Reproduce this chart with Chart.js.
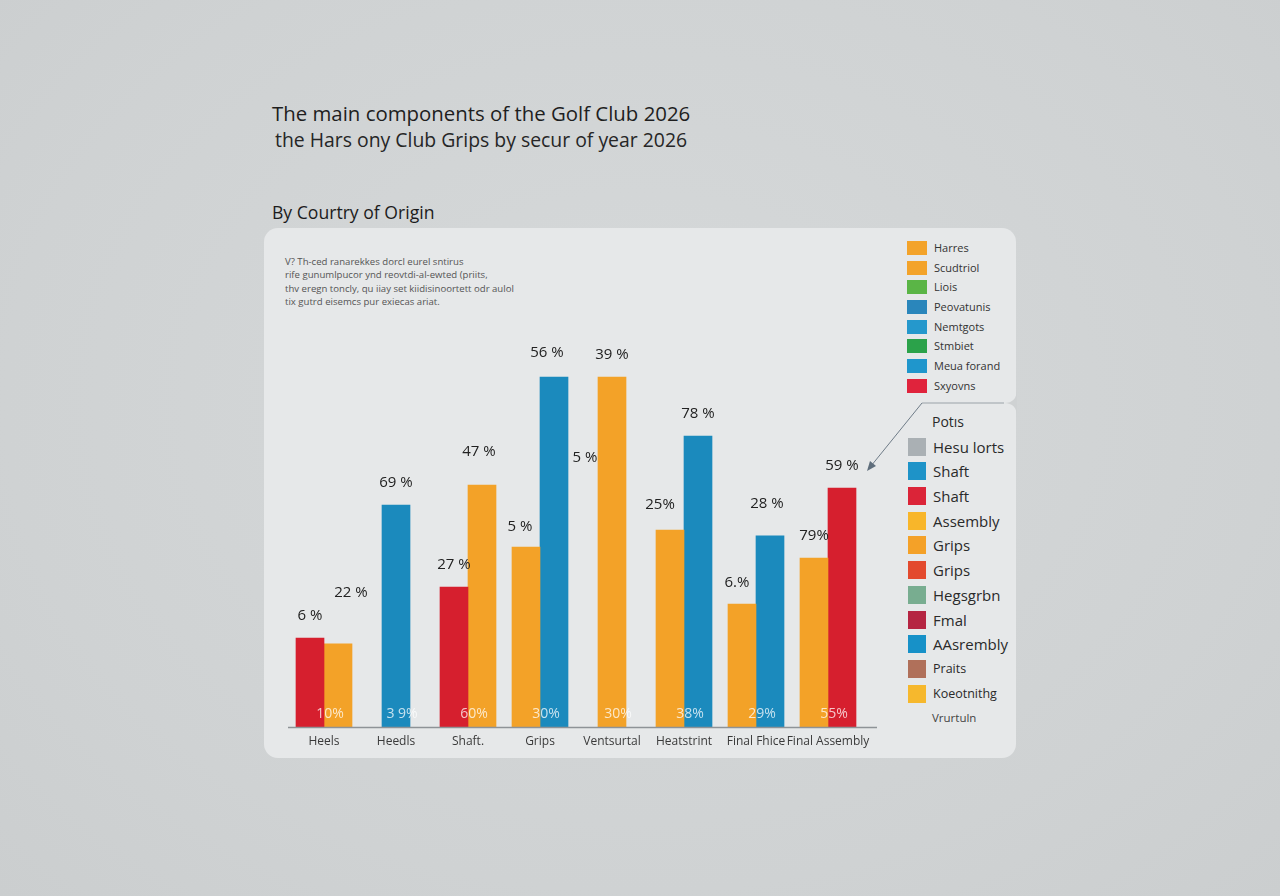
<!DOCTYPE html>
<html>
<head>
<meta charset="utf-8">
<script src="https://cdn.jsdelivr.net/npm/chart.js@4.4.1/dist/chart.umd.min.js"></script>
<style>
  html, body { margin: 0; padding: 0; }
  body {
    width: 1280px; height: 896px; overflow: hidden; position: relative;
    background: radial-gradient(ellipse at 50% 45%, #d6d9da 0%, #cfd2d3 70%, #cbcecf 100%);
    font-family: "Open Sans", "Noto Sans", sans-serif;
  }
  .title { position: absolute; left: 272px; color: #1e1e1e; font-size: 20.4px; white-space: nowrap; }
  #t1 { top: 99px; }
  #t2 { top: 126px; left: 275px; color: #262626; font-size: 19.4px; }
  #sub { position: absolute; left: 272px; top: 200px; font-size: 17.6px; color: #1c1c1c; font-weight: 500; }
  #card {
    position: absolute; left: 264px; top: 228px; width: 752px; height: 530px;
    background: #e6e8e9; border-radius: 14px;
  }
  #note { position: absolute; left: 285px; top: 255px; font-size: 9.6px; line-height: 13.3px; color: #555; }
  #wrap { position: absolute; left: 264px; top: 228px; width: 630px; height: 530px; }
  .leg { position: absolute; font-size: 11px; color: #333; }
  .leg div { position: relative; height: 19.7px; line-height: 19.7px; padding-left: 27px; white-space: nowrap; }
  .leg span { position: absolute; left: 0; top: 3px; width: 20px; height: 14px; }
  #leg1 { left: 907px; top: 238px; }
  #leg2 { left: 908px; top: 410px; font-size: 15px; color: #2a2a2a; }
  #leg2 div { height: 24.7px; line-height: 24.7px; padding-left: 25px; }
  #leg2 span { top: 3px; width: 18px; height: 18px; }
  #leg2 .head { padding-left: 24px; font-size: 14px; }
  #leg2 .small { font-size: 12.5px; }
  #leg2 .tail { padding-left: 24px; font-size: 11.5px; color: #444; }
  svg { position: absolute; left: 0; top: 0; }
</style>
</head>
<body>
<div class="title" id="t1">The main components of the Golf Club 2026</div>
<div class="title" id="t2">the Hars ony Club Grips by secur of year 2026</div>
<div id="sub">By Courtry of Origin</div>
<div id="card"></div>
<div id="note">
  V? Th-ced ranarekkes dorcl eurel sntirus<br>
  rife gunumlpucor ynd reovtdi-al-ewted (priits,<br>
  thv eregn toncly, qu iiay set kiidisinoortett odr aulol<br>
  tix gutrd eisemcs pur exiecas ariat.
</div>
<svg width="1280" height="896">
  <path d="M1017 389 Q1017 403 1004 403 Q1017 403 1017 417 Z" fill="#cfd2d3"/>
  <path d="M922 403 L1004 403" stroke="#9aa2a8" stroke-width="1" fill="none"/>
  <path d="M922 403 L871 466" stroke="#6f7c88" stroke-width="1" fill="none"/>
  <path d="M867 471 L870 461 L876 466 Z" fill="#5f6e7c"/>
</svg>
<div class="leg" id="leg1"></div>
<div class="leg" id="leg2"></div>
<div id="wrap"><canvas id="chart"></canvas></div>
<script>
// categories along the bottom
const categories = ['Heels', 'Heedls', 'Shaft.', 'Grips', 'Ventsurtal', 'Heatstrint', 'Final Fhice', 'Final Assembly'];

// bar heights (no y axis shown, arbitrary units)
const redLeft  = [20.3, null, 32.0, null, null, null, null, null];
const orange   = [19.0, null, 55.3, 41.1, 80.0, 45.0, 28.1, 38.6];
const blue     = [null, 50.7, null, 80.0, null, 66.5, 43.7, null];
const redRight = [null, null, null, null, null, null, null, 54.6];

// printed labels above each bar
const redLeftTop  = ['6 %', null, '27 %', null, null, null, null, null];
const orangeTop   = ['22 %', null, '47 %', '5 %', '39 %', '25%', '6.%', '79%'];
const blueTop     = [null, '69 %', null, '56 %', null, '78 %', '28 %', null];
const redRightTop = [null, null, null, null, null, null, null, '59 %'];

// printed labels at the foot of each group
const footLabels = ['10%', '3 9%', '60%', '30%', '30%', '38%', '29%', '55%'];

// stray label beside the Grips blue bar
const sideLabels = [{ category: 'Grips', value: 61.5, text: '5 %' }];

const legendTop = [
  ['Harres', '#f3a32a'], ['Scudtriol', '#f3a32a'], ['Liois', '#5ab546'], ['Peovatunis', '#2a86bb'],
  ['Nemtgots', '#2598cc'], ['Stmbiet', '#2ba24a'], ['Meua forand', '#1f96cc'], ['Sxyovns', '#e0233c']
];
const legendBottom = [
  ['Hesu lorts', '#aab0b4'], ['Shaft', '#1e93c8'], ['Shaft', '#db2438'], ['Assembly', '#f8b62a'],
  ['Grips', '#f4a128'], ['Grips', '#e34a2e'], ['Hegsgrbn', '#78ad90'], ['Fmal', '#b52542'],
  ['AAsrembly', '#1791c8'], ['Praits', '#b0705a'], ['Koeotnithg', '#f6b82d']
];

const RED = '#d61f2e', ORANGE = '#f3a228', BLUE = '#1b8abd';

// html legends
const l1 = document.getElementById('leg1');
legendTop.forEach(([t, c]) => {
  l1.insertAdjacentHTML('beforeend', `<div><span style="background:${c}"></span>${t}</div>`);
});
const l2 = document.getElementById('leg2');
l2.insertAdjacentHTML('beforeend', '<div class="head">Potıs</div>');
legendBottom.forEach(([t, c], i) => {
  const cls = i >= 9 ? ' class="small"' : '';
  l2.insertAdjacentHTML('beforeend', `<div${cls}><span style="background:${c}"></span>${t}</div>`);
});
l2.insertAdjacentHTML('beforeend', '<div class="tail">Vrurtuln</div>');

// label nudges (dataset index -> category index -> [dx, lift])
const nudges = { 1: { 0: [13, 51], 2: [-3, 33], 3: [-6, 20], 5: [-10, 25], 6: [-5, 21] }, 2: { 3: [-7, 24], 6: [-3, 32] } };

const labelPlugin = {
  id: 'barLabels',
  afterDatasetsDraw(chart) {
    const ctx = chart.ctx;
    const x = chart.scales.x, y = chart.scales.y;
    const tops = [redLeftTop, orangeTop, blueTop, redRightTop];
    ctx.save();
    ctx.font = '15px "Open Sans", sans-serif';
    ctx.fillStyle = '#222';
    ctx.textAlign = 'center';
    ctx.textBaseline = 'middle';
    chart.data.datasets.forEach((ds, i) => {
      const meta = chart.getDatasetMeta(i);
      meta.data.forEach((bar, j) => {
        if (ds.data[j] == null || !tops[i][j]) return;
        const n = (nudges[i] && nudges[i][j]) || [0, 22];
        ctx.fillText(tops[i][j], bar.x + n[0], bar.y - n[1]);
      });
    });
    sideLabels.forEach(s => {
      const idx = categories.indexOf(s.category);
      const bar = chart.getDatasetMeta(2).data[idx];
      ctx.fillText(s.text, bar.x + bar.width / 2 + 17, y.getPixelForValue(s.value));
    });
    ctx.font = '14px "Open Sans", sans-serif';
    ctx.fillStyle = 'rgba(255,255,255,0.75)';
    footLabels.forEach((t, j) => {
      ctx.fillText(t, x.getPixelForValue(j) + 6, y.getPixelForValue(0) - 13);
    });
    // base line
    ctx.strokeStyle = '#8e9397';
    ctx.lineWidth = 1.5;
    ctx.beginPath();
    ctx.moveTo(chart.chartArea.left, chart.chartArea.bottom + 0.5);
    ctx.lineTo(chart.chartArea.right + 13, chart.chartArea.bottom + 0.5);
    ctx.stroke();
    ctx.restore();
  }
};

new Chart(document.getElementById('chart'), {
  type: 'bar',
  data: {
    labels: categories,
    datasets: [
      { label: 'red', data: redLeft, backgroundColor: RED },
      { label: 'orange', data: orange, backgroundColor: ORANGE },
      { label: 'blue', data: blue, backgroundColor: BLUE },
      { label: 'red2', data: redRight, backgroundColor: RED }
    ]
  },
  options: {
    responsive: true,
    maintainAspectRatio: false,
    animation: false,
    skipNull: true,
    barThickness: 28,
    layout: { padding: { left: 24, right: 30, top: 61.5, bottom: 2.6 } },
    plugins: { legend: { display: false }, tooltip: { enabled: false } },
    scales: {
      x: {
        grid: { display: false, drawTicks: false },
        border: { display: false },
        ticks: { color: '#3a3a3a', font: { family: 'Open Sans', size: 12 }, padding: 7, autoSkip: false, maxRotation: 0 }
      },
      y: { display: false, min: 0, max: 100 }
    }
  },
  plugins: [labelPlugin]
});
</script>
</body>
</html>
